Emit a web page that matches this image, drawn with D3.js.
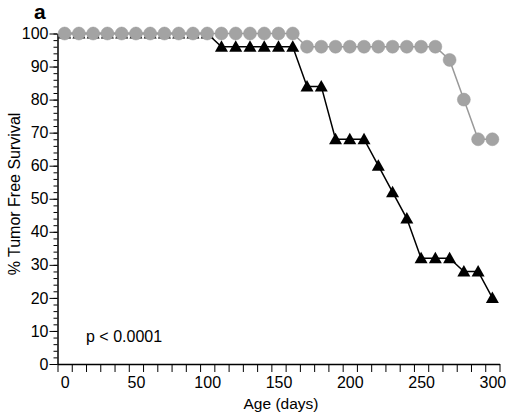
<!DOCTYPE html>
<html><head><meta charset="utf-8">
<script src="https://cdn.jsdelivr.net/npm/d3@7"></script>
<style>body{margin:0;background:#fff}svg text{font-family:"Liberation Sans",Arial,sans-serif}</style>
</head><body><svg id="c" width="508" height="417"></svg>
<script>
const days = [0,10,20,30,40,50,60,70,80,90,100,110,120,130,140,150,160,170,180,190,200,210,220,230,240,250,260,270,280,290,300];
const controlSurvival = [100,100,100,100,100,100,100,100,100,100,100,100,100,100,100,100,100,96,96,96,96,96,96,96,96,96,96,92,80,68,68];
const mutantSurvival  = [100,100,100,100,100,100,100,100,100,100,100,96,96,96,96,96,96,84,84,68,68,68,60,52,44,32,32,32,28,28,20];
const xLabelTicks = [0,50,100,150,200,250,300];
const yTicks = [0,10,20,30,40,50,60,70,80,90,100];

const svg = d3.select("#c");
const x = d3.scaleLinear().domain([-5,305]).range([57.5,499.5]);
const y = d3.scaleLinear().domain([0,100]).range([364,33.5]);

// y minor ticks
svg.append("g").attr("transform","translate(57.5,0)")
  .call(d3.axisLeft(y).tickValues(d3.range(0,101,2)).tickSize(4).tickFormat(""))
  .call(g=>g.select(".domain").remove())
  .call(g=>g.selectAll("line").attr("stroke","#000").attr("stroke-width",1));
// y major
svg.append("g").attr("transform","translate(57.5,0)")
  .call(d3.axisLeft(y).tickValues(yTicks).tickSize(8).tickPadding(1).tickSizeOuter(0))
  .call(g=>g.select(".domain").attr("stroke-width",1.5))
  .call(g=>g.selectAll("text").attr("font-size",16).attr("fill","#000"));
// x ticks
svg.append("g").attr("transform","translate(0,364)")
  .call(d3.axisBottom(x).tickValues(d3.range(-5,306,10)).tickSize(8).tickFormat("").tickSizeOuter(0))
  .call(g=>g.select(".domain").attr("stroke-width",1.5));
// x labels
svg.append("g").attr("transform","translate(0,364)")
  .call(d3.axisBottom(x).tickValues(xLabelTicks).tickSize(0).tickPadding(13))
  .call(g=>g.select(".domain").remove())
  .call(g=>g.selectAll("text").attr("font-size",16).attr("fill","#000"));

// lines
const mk = vals => d3.line().x((d,i)=>x(days[i])).y(d=>y(d))(vals);
svg.append("path").attr("d",mk(mutantSurvival)).attr("fill","none").attr("stroke","#000").attr("stroke-width",1.5);
const tri = "M0,-6.5L6.5,5L-6.5,5Z";
svg.append("g").selectAll("path").data(mutantSurvival).join("path")
  .attr("d",tri).attr("transform",(d,i)=>`translate(${x(days[i])},${y(d)})`).attr("fill","#000");

svg.append("path").attr("d",mk(controlSurvival)).attr("fill","none").attr("stroke","#999").attr("stroke-width",1.5);
svg.append("g").selectAll("circle").data(controlSurvival).join("circle")
  .attr("cx",(d,i)=>x(days[i])).attr("cy",d=>y(d)).attr("r",6.5)
  .attr("fill","#a3a3a3").attr("stroke","#9a9a9a").attr("stroke-width",0.5);

svg.append("text").attr("x",281).attr("y",409).attr("text-anchor","middle").attr("font-size",15.5).text("Age (days)");
svg.append("text").attr("transform","translate(20,194) rotate(-90)").attr("text-anchor","middle").attr("font-size",16).text("% Tumor Free Survival");
svg.append("text").attr("x",86).attr("y",342).attr("font-size",16).text("p < 0.0001");
svg.append("text").attr("x",34).attr("y",19).attr("font-size",21).attr("font-weight","bold").text("a");
</script></body></html>
